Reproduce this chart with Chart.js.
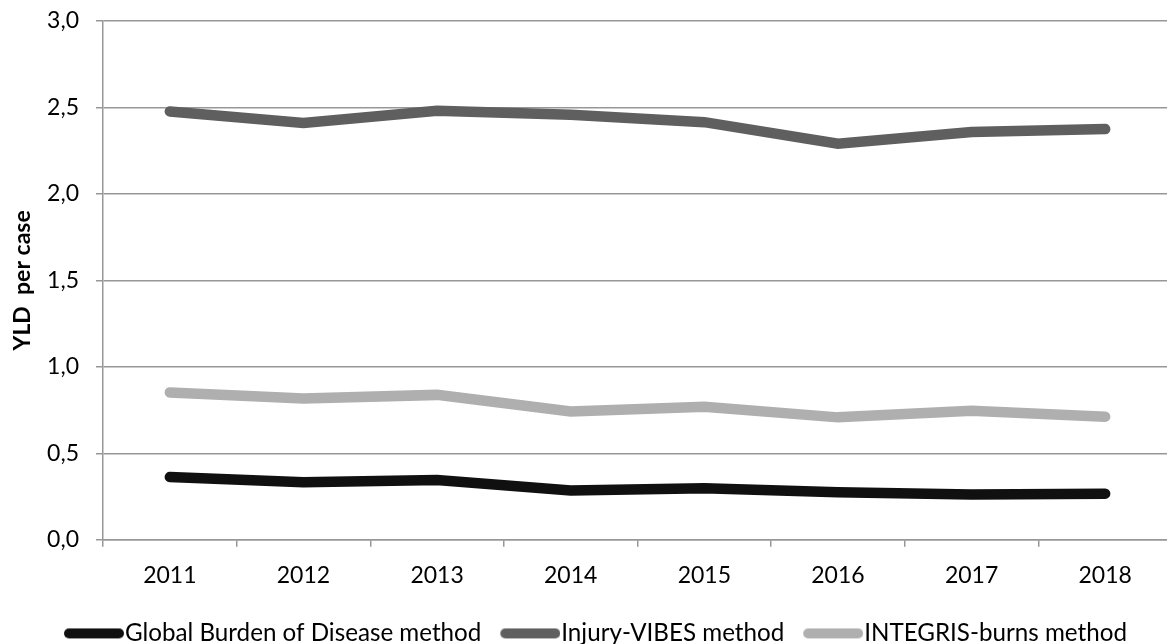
<!DOCTYPE html>
<html>
<head>
<meta charset="utf-8">
<script src="https://cdn.jsdelivr.net/npm/chart.js@4/dist/chart.umd.min.js"></script>
<style>
  html, body { margin: 0; padding: 0; background: #ffffff; overflow: hidden; }
  #wrap { position: relative; width: 1172px; height: 644px; }
</style>
</head>
<body>
<div id="wrap"><canvas id="chart" width="1172" height="644"></canvas></div>
<script>
// Years on the horizontal axis
const years = ['2011', '2012', '2013', '2014', '2015', '2016', '2017', '2018'];

// YLD per case for each estimation method
const gbdValues      = [0.363, 0.333, 0.346, 0.285, 0.298, 0.275, 0.262, 0.267];
const vibesValues    = [2.477, 2.410, 2.481, 2.458, 2.415, 2.290, 2.358, 2.375];
const integrisValues = [0.852, 0.817, 0.838, 0.742, 0.769, 0.708, 0.746, 0.712];

const seriesNames = ['Global Burden of Disease method', 'Injury-VIBES method', 'INTEGRIS-burns method'];
const axisTitle = 'YLD  per case';

const FONT = 'Lato, "Open Sans", "Noto Sans", sans-serif';
const GRID = '#979797';

// Rounded line swatch used as the legend marker
function lineSwatch(color) {
  const c = document.createElement('canvas');
  c.width = 90; c.height = 12;
  const g = c.getContext('2d');
  g.strokeStyle = color;
  g.lineWidth = 10;
  g.lineCap = 'round';
  g.beginPath();
  g.moveTo(35, 6);
  g.lineTo(85, 6);
  g.stroke();
  return c;
}

const colors = ['#101010', '#5f5f5f', '#afafaf'];
const values = [gbdValues, vibesValues, integrisValues];

const datasets = seriesNames.map((name, i) => ({
  label: name,
  data: values[i],
  borderColor: colors[i],
  backgroundColor: colors[i],
  borderWidth: 10.5,
  borderCapStyle: 'round',
  borderJoinStyle: 'miter',
  pointRadius: 0,
  pointHoverRadius: 0,
  tension: 0,
  fill: false
}));

const swatches = colors.map(lineSwatch);

new Chart(document.getElementById('chart'), {
  type: 'line',
  data: { labels: years, datasets },
  options: {
    responsive: false,
    animation: false,
    devicePixelRatio: 1,
    layout: { padding: { top: 21, left: 0, right: 0, bottom: -11.5 } },
    plugins: {
      tooltip: { enabled: false },
      legend: {
        position: 'bottom',
        labels: {
          usePointStyle: true,
          pointStyleWidth: 67.8,
          padding: 0,
          color: '#000000',
          font: { family: FONT, size: 24.2 },
          generateLabels: chart => chart.data.datasets.map((ds, i) => ({
            text: ds.label,
            pointStyle: swatches[i],
            fillStyle: ds.borderColor,
            strokeStyle: ds.borderColor,
            lineWidth: 0,
            hidden: false,
            datasetIndex: i
          }))
        }
      }
    },
    scales: {
      x: {
        type: 'category',
        offset: true,
        grid: {
          offset: true,
          drawOnChartArea: false,
          drawTicks: true,
          tickLength: 7,
          color: GRID,
          lineWidth: 1.5
        },
        border: { color: GRID, width: 1.5 },
        ticks: {
          padding: 15,
          color: '#000000',
          maxRotation: 0,
          font: { family: FONT, size: 23 }
        },
        afterFit: scale => { scale.height = 81.5; }
      },
      y: {
        min: 0,
        max: 3,
        grid: { color: GRID, lineWidth: 1.5, tickLength: 7 },
        border: { color: GRID, width: 1.5 },
        ticks: {
          stepSize: 0.5,
          padding: 17,
          color: '#000000',
          font: { family: FONT, size: 23 },
          callback: v => v.toFixed(1).replace('.', ',')
        },
        title: {
          display: true,
          text: axisTitle,
          color: '#000000',
          font: { family: FONT, size: 23, weight: 'bold' },
          padding: { top: 9, bottom: 0 }
        },
        afterFit: scale => {
          scale.width = 103;
          scale.paddingTop = 0;
          scale.paddingBottom = 0;
        }
      }
    }
  }
});
</script>
</body>
</html>
